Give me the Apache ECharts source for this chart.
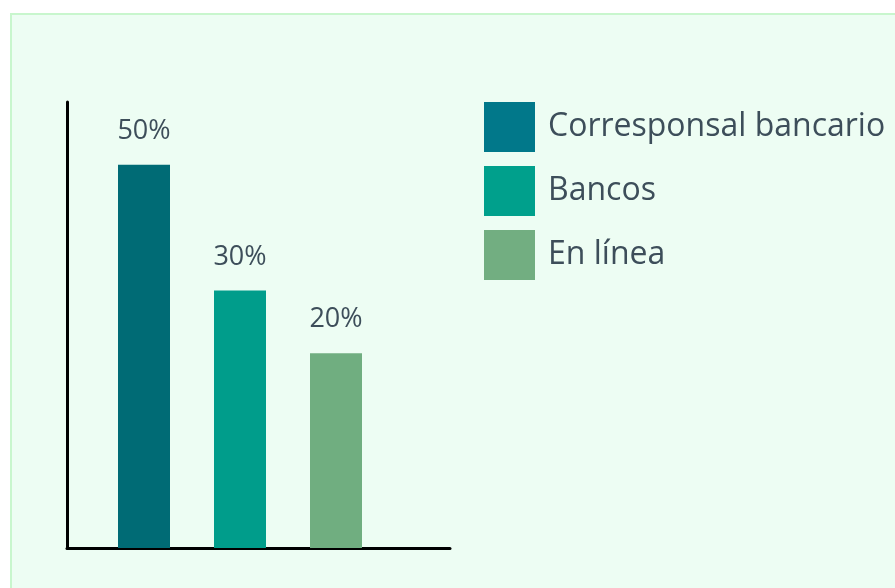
<!DOCTYPE html>
<html>
<head>
<meta charset="utf-8">
<script src="https://cdn.jsdelivr.net/npm/echarts@6/dist/echarts.min.js"></script>
<style>
html,body{margin:0;padding:0;background:#ffffff;width:895px;height:588px;overflow:hidden;}
#bg{position:absolute;left:10px;top:13px;width:900px;height:600px;border:2px solid #c8f6cd;background:#edfdf3;box-sizing:border-box;}
#chart{position:absolute;left:0;top:0;width:895px;height:588px;}
</style>
</head>
<body>
<div id="bg"></div>
<div id="chart"></div>
<script>
const categories = ["Corresponsal bancario", "Bancos", "En línea"];
const values = [50, 30, 20];
const barColors = ["#006b75", "#009d8b", "#70ae80"];
const legendColors = ["#01788a", "#00a08c", "#72ae81"];

const chart = echarts.init(document.getElementById('chart'));
const textColor = '#3d4e5a';
const font = 'Open Sans';

const series = categories.map((name, i) => ({
  name: name,
  type: 'bar',
  xAxisIndex: 1,
  yAxisIndex: 1,
  barWidth: 52,
  barGap: '-100%',
  itemStyle: { color: barColors[i] },
  label: {
    show: true,
    position: 'top',
    distance: 20,
    formatter: '{c}%',
    color: textColor,
    fontFamily: font,
    fontSize: 27
  },
  data: values.map((v, j) => (j === i ? v : '-'))
}));

chart.setOption({
  backgroundColor: 'transparent',
  animation: false,
  legend: {
    orient: 'vertical',
    left: 484,
    top: 102,
    padding: 0,
    itemWidth: 51,
    itemHeight: 50,
    itemGap: 14,
    icon: 'rect',
    selectedMode: false,
    data: categories.map((c, i) => ({ name: c, itemStyle: { color: legendColors[i] } })),
    textStyle: {
      color: textColor,
      fontFamily: font,
      fontSize: 32,
      padding: [0, 0, 0, 8]
    }
  },
  grid: [
    { left: 67, top: 102, width: 383, bottom: 40 },
    { left: 96, top: 102, width: 288, bottom: 40 }
  ],
  xAxis: [
    { gridIndex: 0, type: 'value', min: 0, max: 1,
      axisLine: { show: true, lineStyle: { color: '#000', width: 3 } },
      axisTick: { show: false }, axisLabel: { show: false }, splitLine: { show: false } },
    { gridIndex: 1, type: 'category', data: categories,
      axisLine: { show: false }, axisTick: { show: false }, axisLabel: { show: false } }
  ],
  yAxis: [
    { gridIndex: 0, type: 'value', min: 0, max: 1,
      axisLine: { show: true, lineStyle: { color: '#000', width: 3 } },
      axisTick: { show: false }, axisLabel: { show: false }, splitLine: { show: false } },
    { gridIndex: 1, type: 'value', min: -11, max: 60, startValue: -11,
      axisLine: { show: false }, axisTick: { show: false }, axisLabel: { show: false }, splitLine: { show: false } }
  ],
  series: series
});
</script>
</body>
</html>
